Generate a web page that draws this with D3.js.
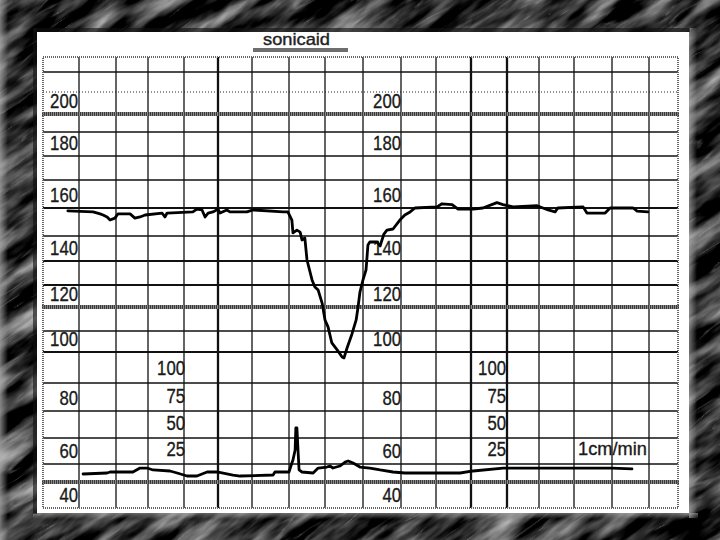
<!DOCTYPE html>
<html><head><meta charset="utf-8">
<script src="https://cdn.jsdelivr.net/npm/d3@7"></script>
<style>
html,body{margin:0;padding:0;background:#333;}
svg{display:block;}
text{font-family:"Liberation Sans Narrow","Liberation Sans",Arial,sans-serif;}
</style></head>
<body><svg id="c" width="720" height="540"></svg>
<script>
// ---------- data ----------
const fhrTime = [0.69,1.38,1.57,1.65,1.76,1.84,1.97,2.06,2.44,2.59,2.75,2.91,3.39,3.47,3.53,4.26,4.38,4.53,4.62,4.71,4.85,5.0,5.06,5.26,5.35,5.85,6.03,6.84,6.97,7.08,7.11,7.22,7.31,7.36,7.44,7.5,7.64,7.72,7.81,7.92,8.0,8.08,8.18,8.32,8.45,8.5,8.58,8.71,8.82,8.87,8.92,9.0,9.08,9.13,9.18,9.37,9.45,9.55,9.63,9.79,9.97,10.11,10.26,10.4,11.03,11.17,11.46,11.63,12.06,12.33,12.72,12.89,13.19,13.94,14.26,14.46,14.54,15.24,15.34,15.82,15.95,16.57,16.68,16.97];
const fhrBpm  = [159,158.6,157.9,157.5,156.8,155.7,156.4,157.9,157.9,156.4,156.8,157.5,158.2,156.8,158.2,158.6,159.6,159.3,156.8,158.2,158.6,159.6,158.2,159.3,158.6,158.6,159.3,158.6,158.6,155.7,151.1,152.1,151.4,148.4,149.2,140.4,132.1,129.1,127.7,121.8,114.6,111.7,104.3,101,98.4,98.1,101.9,108.6,114.6,120,126.8,132.1,136.3,146.4,147.6,147.6,146,150.7,152.1,152.5,155.7,157.5,158.6,160,160.4,161.5,161.2,159.6,159.6,160,161.9,161.2,160.4,160.8,159.3,158.6,160,160.4,158.2,158.2,160,160,158.9,158.6];
const tocoTime = [1.11,1.76,1.84,2.53,2.75,2.97,3.14,3.61,3.81,4.09,4.38,4.68,4.97,5.44,5.65,6.57,6.62,7.0,7.08,7.11,7.17,7.19,7.22,7.25,7.28,7.36,7.67,7.81,8.05,8.13,8.21,8.39,8.53,8.61,8.74,8.92,9.18,9.45,9.79,10.11,11.03,11.69,12.06,12.89,14.03,16.0,16.54];
const tocoVal  = [11.1,12.5,13.9,13.9,19.4,19.4,16.7,15.3,12.5,8.3,8.3,13.9,13.9,9.7,8.3,9.7,13.9,13.9,26,28.8,38.5,59.3,59.3,38.5,16.7,13.9,12.5,19.4,20.8,22.2,19.4,22.2,26.9,27.9,26,20.8,19.4,16.7,13.9,12.5,12.5,12.5,15.3,19.4,19.4,19.4,18.1];
const fhrTickLabels = [200,180,160,140,120,100,80,60,40];
const tocoTickLabels = [100,75,50,25];
const bpmGrid = d3.range(50, 230, 10);      // horizontal grid lines (bpm)
const minuteGrid = d3.range(1, 18);          // vertical grid lines (time units)
const title = "sonicaid";
const speedLabel = "1cm/min";

// ---------- scales ----------
const x = d3.scaleLinear()
  .domain([0,1,2,3,4,5,6,7,8,9,10,11,12,13,14,15,16,17,17.8])
  .range([43,79,116,148,184,218,252,289,325,363,401,436,471,507,539,574,612,649,678]);
const y = d3.scaleLinear()
  .domain([40,50,60,70,80,90,100,110,120,130,140,150,160,170,180,190,200,210,220,230])
  .range([508,482,464,438,411,383,352,331,307,285,261,236,208,180,156,132,114,92,72,57]);
const yT = d3.scaleLinear().domain([0,25,50,75,100]).range([482,464,438,411,383]);

const svg = d3.select("#c");
const defs = svg.append("defs");

// stone texture for frame
const f = defs.append("filter").attr("id","stone").attr("x","0").attr("y","0").attr("width","1").attr("height","1")
  .attr("color-interpolation-filters","sRGB");
f.append("feTurbulence").attr("type","fractalNoise").attr("baseFrequency","0.012 0.05").attr("numOctaves",4).attr("seed",7).attr("result","n");
f.append("feColorMatrix").attr("in","n").attr("type","matrix")
  .attr("values","1.6 0 0 0 -0.6  1.6 0 0 0 -0.6  1.6 0 0 0 -0.6  0 0 0 0 1");
const f2 = defs.append("filter").attr("id","stone2").attr("x","0").attr("y","0").attr("width","1").attr("height","1")
  .attr("color-interpolation-filters","sRGB");
f2.append("feTurbulence").attr("type","turbulence").attr("baseFrequency","0.01 0.06").attr("numOctaves",3).attr("seed",11).attr("result","n");
f2.append("feColorMatrix").attr("in","n").attr("type","matrix")
  .attr("values","0 0 0 0 0.75  0 0 0 0 0.75  0 0 0 0 0.75  -6 0 0 0 0.8");

svg.append("rect").attr("width",720).attr("height",540).attr("fill","#262626");
const tex = svg.append("g").attr("transform","translate(360,270) rotate(-35)");
tex.append("rect").attr("x",-700).attr("y",-700).attr("width",1400).attr("height",1400).attr("filter","url(#stone)");
tex.append("rect").attr("x",-700).attr("y",-700).attr("width",1400).attr("height",1400).attr("filter","url(#stone2)").attr("opacity",0.45);

// bevel highlights
const lg = defs.append("linearGradient").attr("id","lhl").attr("x1",0).attr("x2",1);
lg.append("stop").attr("offset",0).attr("stop-color","#aaa").attr("stop-opacity",0.7);
lg.append("stop").attr("offset",1).attr("stop-color","#aaa").attr("stop-opacity",0);
svg.append("rect").attr("x",0).attr("y",0).attr("width",8).attr("height",540).attr("fill","url(#lhl)");
const rg = defs.append("linearGradient").attr("id","rhl").attr("x1",0).attr("x2",1);
rg.append("stop").attr("offset",0).attr("stop-color","#bbb").attr("stop-opacity",0.6);
rg.append("stop").attr("offset",1).attr("stop-color","#bbb").attr("stop-opacity",0);
svg.append("rect").attr("x",689).attr("y",28).attr("width",8).attr("height",490).attr("fill","url(#rhl)");
const bg = defs.append("linearGradient").attr("id","bhl").attr("x1",0).attr("x2",0).attr("y1",0).attr("y2",1);
bg.append("stop").attr("offset",0).attr("stop-color","#aaa").attr("stop-opacity",0.6);
bg.append("stop").attr("offset",1).attr("stop-color","#aaa").attr("stop-opacity",0);
svg.append("rect").attr("x",33).attr("y",513).attr("width",665).attr("height",6).attr("fill","url(#bhl)");
svg.append("rect").attr("x",33).attr("y",28).attr("width",657).attr("height",4).attr("fill","#111").attr("opacity",0.6);
svg.append("rect").attr("x",33).attr("y",28).attr("width",4).attr("height",486).attr("fill","#111").attr("opacity",0.6);

// white panel
svg.append("rect").attr("x",37).attr("y",32).attr("width",652).attr("height",481).attr("fill","#fff");

// title
svg.append("text").attr("x",263).attr("y",45)
  .attr("font-size",17).attr("fill","#222").attr("stroke","#222").attr("stroke-width",0.4)
  .attr("textLength",67).attr("lengthAdjust","spacingAndGlyphs").text(title);
svg.append("rect").attr("x",253).attr("y",48).attr("width",95).attr("height",4).attr("fill","#6e6e6e");

// grid
const g = svg.append("g");
const x0 = x(0), x1 = x(17.8), yTop = y(230), yBot = y(40);
const hatched = new Set([50,120,200]);
const thickH = new Set([160,140,130,100]);
bpmGrid.forEach(v => {
  if (hatched.has(v)) return; // drawn later on top
  const line = g.append("line").attr("x1",x0).attr("x2",x1).attr("y1",y(v)).attr("y2",y(v));
  if (v === 210) line.attr("stroke","#222").attr("stroke-width",1).attr("stroke-dasharray","1,2");
  else line.attr("stroke","#111").attr("stroke-width", thickH.has(v) ? 2.2 : 1.3);
});
const thickV = new Set([5,12,13]);
minuteGrid.forEach(t => {
  g.append("line").attr("x1",x(t)).attr("x2",x(t)).attr("y1",yTop).attr("y2",yBot)
    .attr("stroke","#111").attr("stroke-width", thickV.has(t) ? 2.3 : 1.3);
});
// hatched heavy lines
bpmGrid.filter(v => hatched.has(v)).forEach(v => {
  g.append("line").attr("x1",x0-1).attr("x2",x1+1).attr("y1",y(v)).attr("y2",y(v))
    .attr("stroke","#8a8a8a").attr("stroke-width",4);
  g.append("line").attr("x1",x0-1).attr("x2",x1+1).attr("y1",y(v)).attr("y2",y(v))
    .attr("stroke","#3a3a3a").attr("stroke-width",4).attr("stroke-dasharray","1,1");
});
// dotted border
g.append("rect").attr("x",x0).attr("y",yTop).attr("width",x1-x0).attr("height",yBot-yTop)
  .attr("fill","none").attr("stroke","#666").attr("stroke-width",2).attr("stroke-dasharray","1,1");

// labels
const lab = svg.append("g").attr("font-size",20).attr("fill","#1a1a1a").attr("stroke","#1a1a1a")
  .attr("stroke-width",0.35).attr("text-anchor","end");
function addLabel(xx, yy, v){
  const s = String(v);
  lab.append("text").attr("x",xx).attr("y",yy)
    .attr("textLength", 9.3*s.length).attr("lengthAdjust","spacingAndGlyphs").text(s);
}
[78, 401].forEach(xx => fhrTickLabels.forEach(v => addLabel(xx, y(v)-6, v)));
[185, 506].forEach(xx => tocoTickLabels.forEach(v => addLabel(xx, yT(v)-8, v)));
svg.append("text").attr("x",578).attr("y",455).attr("font-size",19).attr("fill","#1a1a1a")
  .attr("stroke","#1a1a1a").attr("stroke-width",0.35)
  .attr("textLength",69).attr("lengthAdjust","spacingAndGlyphs").text(speedLabel);

// traces
const fhrLine = d3.line().x((d,i)=>x(fhrTime[i])).y(d=>y(d));
svg.append("path").attr("d",fhrLine(fhrBpm)).attr("fill","none").attr("stroke","#000")
  .attr("stroke-width",2.8).attr("stroke-linejoin","round").attr("stroke-linecap","round");
const tocoLine = d3.line().x((d,i)=>x(tocoTime[i])).y(d=>yT(d));
svg.append("path").attr("d",tocoLine(tocoVal)).attr("fill","none").attr("stroke","#000")
  .attr("stroke-width",2.8).attr("stroke-linejoin","round").attr("stroke-linecap","round");
</script></body></html>
